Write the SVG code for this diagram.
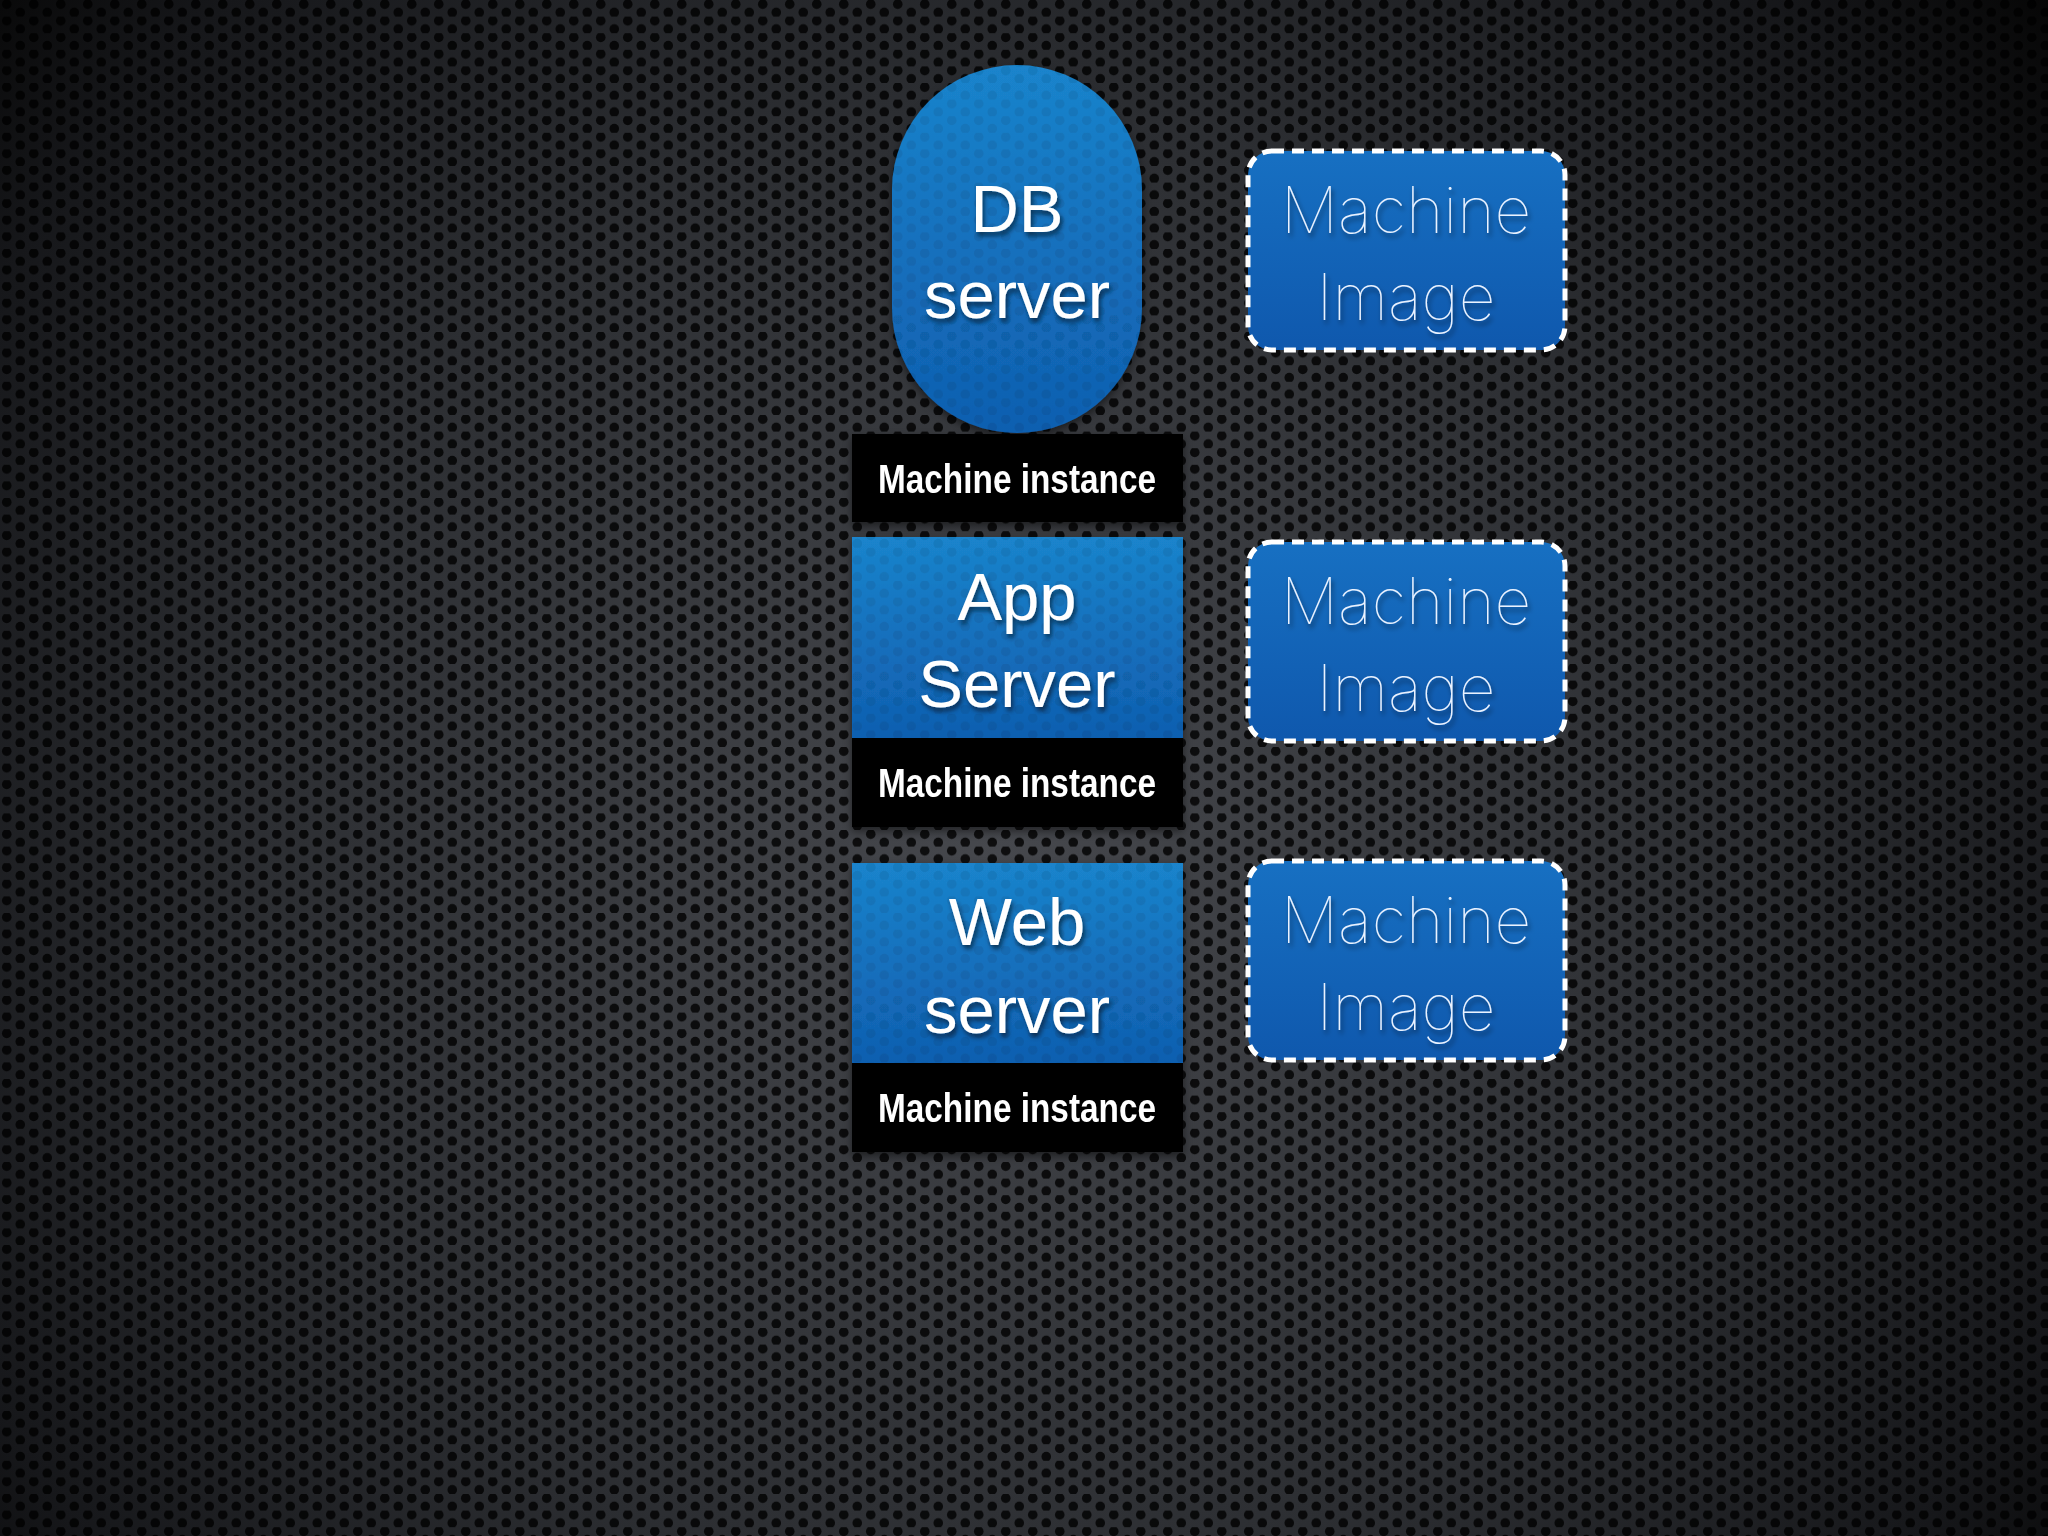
<svg xmlns="http://www.w3.org/2000/svg" width="2048" height="1536" viewBox="0 0 2048 1536">
<defs>
<radialGradient id="bg" cx="1000" cy="850" r="1350" gradientUnits="userSpaceOnUse">
<stop offset="0" stop-color="#46484d"/>
<stop offset="0.55" stop-color="#2c2e32"/>
<stop offset="0.85" stop-color="#16171a"/>
<stop offset="1" stop-color="#060606"/>
</radialGradient>
<pattern id="holes" width="27" height="16.6" patternUnits="userSpaceOnUse">
<circle cx="6.75" cy="4.15" r="4.8" fill="#000"/>
<circle cx="20.25" cy="12.45" r="4.8" fill="#000"/>
</pattern>
<linearGradient id="blueBox" x1="0" y1="0" x2="0" y2="1">
<stop offset="0" stop-color="#1a84cc"/>
<stop offset="0.5" stop-color="#1570bd"/>
<stop offset="1" stop-color="#0f5fb0"/>
</linearGradient>
<linearGradient id="blueImg" x1="0" y1="0" x2="0" y2="1">
<stop offset="0" stop-color="#1770c2"/>
<stop offset="1" stop-color="#0f58ad"/>
</linearGradient>
<filter id="tshadow" x="-20%" y="-20%" width="140%" height="160%">
<feDropShadow dx="2" dy="4" stdDeviation="2.5" flood-color="#000" flood-opacity="0.55"/>
</filter>
<filter id="bshadow" x="-10%" y="-10%" width="120%" height="130%">
<feDropShadow dx="0" dy="4" stdDeviation="4" flood-color="#000" flood-opacity="0.5"/>
</filter>
</defs>
<style>
.big{font-family:"Liberation Sans",Arial,sans-serif;font-size:67px;fill:#fff;text-anchor:middle;}
.thin{font-family:Inter,"Open Sans",sans-serif;font-weight:100;font-size:64px;fill:#eaf2ff;text-anchor:middle;}
.inst{font-family:"Liberation Sans",Arial,sans-serif;font-weight:bold;font-size:41px;fill:#fff;text-anchor:middle;}
.bar{fill:#000;}
.img{fill:url(#blueImg);stroke:#fff;stroke-width:5;stroke-dasharray:12 8;}
.tex{fill:url(#holes);opacity:0.07;}
</style>
<rect x="0" y="0" width="2048" height="1536" fill="url(#bg)"/>
<rect x="0" y="0" width="2048" height="1536" fill="url(#holes)" opacity="0.8"/>

<g id="connectors"></g>

<g id="db-server" filter="url(#bshadow)">
<rect x="892" y="65" width="250" height="368" rx="125" fill="url(#blueBox)"/>
<rect x="892" y="65" width="250" height="368" rx="125" class="tex"/>
<text class="big" x="1017" y="232" filter="url(#tshadow)">DB</text>
<text class="big" x="1017" y="318" filter="url(#tshadow)">server</text>
<rect class="bar" x="852" y="434" width="331" height="88"/>
<text class="inst" x="1017" y="493" textLength="278" lengthAdjust="spacingAndGlyphs">Machine instance</text>
</g>

<g id="app-server" filter="url(#bshadow)">
<rect x="852" y="537" width="331" height="201" fill="url(#blueBox)"/>
<rect x="852" y="537" width="331" height="201" class="tex"/>
<text class="big" x="1017" y="620" filter="url(#tshadow)">App</text>
<text class="big" x="1017" y="707" filter="url(#tshadow)">Server</text>
<rect class="bar" x="852" y="738" width="331" height="89"/>
<text class="inst" x="1017" y="797" textLength="278" lengthAdjust="spacingAndGlyphs">Machine instance</text>
</g>

<g id="web-server" filter="url(#bshadow)">
<rect x="852" y="863" width="331" height="200" fill="url(#blueBox)"/>
<rect x="852" y="863" width="331" height="200" class="tex"/>
<text class="big" x="1017" y="945" filter="url(#tshadow)">Web</text>
<text class="big" x="1017" y="1033" filter="url(#tshadow)">server</text>
<rect class="bar" x="852" y="1063" width="331" height="89"/>
<text class="inst" x="1017" y="1122" textLength="278" lengthAdjust="spacingAndGlyphs">Machine instance</text>
</g>

<g id="machine-image-1">
<rect class="img" x="1248" y="151" width="317" height="199" rx="24"/>
<text class="thin" x="1406" y="233" filter="url(#tshadow)">Machine</text>
<text class="thin" x="1406" y="320" filter="url(#tshadow)">Image</text>
</g>

<g id="machine-image-2">
<rect class="img" x="1248" y="542" width="317" height="199" rx="24"/>
<text class="thin" x="1406" y="624" filter="url(#tshadow)">Machine</text>
<text class="thin" x="1406" y="711" filter="url(#tshadow)">Image</text>
</g>

<g id="machine-image-3">
<rect class="img" x="1248" y="861" width="317" height="199" rx="24"/>
<text class="thin" x="1406" y="943" filter="url(#tshadow)">Machine</text>
<text class="thin" x="1406" y="1030" filter="url(#tshadow)">Image</text>
</g>
</svg>
